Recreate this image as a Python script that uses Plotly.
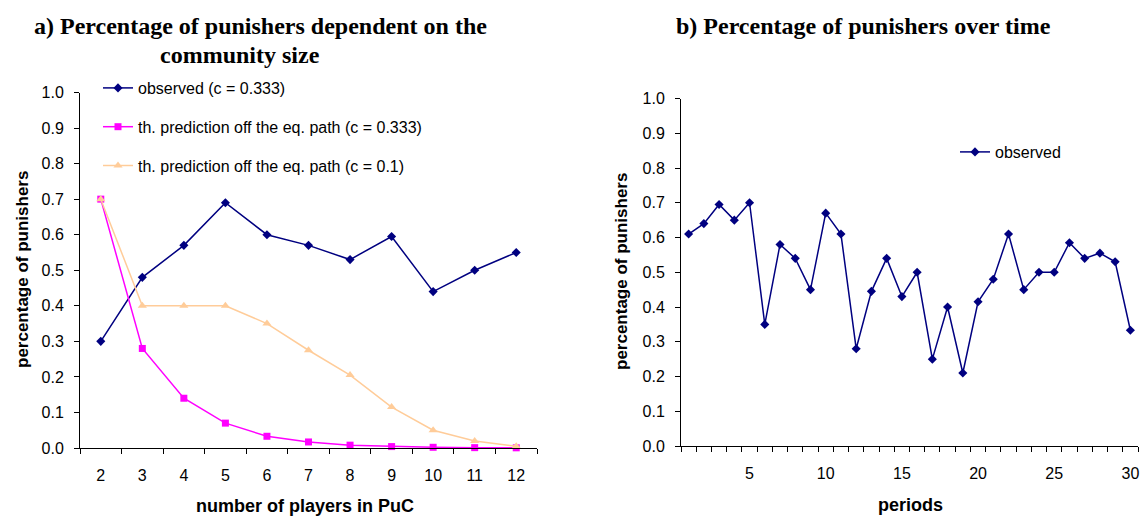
import plotly.graph_objects as go

# ---- data ----
players = [2, 3, 4, 5, 6, 7, 8, 9, 10, 11, 12]
observed_a = [0.30, 0.48, 0.57, 0.69, 0.60, 0.57, 0.53, 0.595, 0.44, 0.50, 0.55]
pred_c333 = [0.70, 0.28, 0.14, 0.07, 0.033, 0.017, 0.008, 0.004, 0.002, 0.001, 0.0005]
pred_c01 = [0.70, 0.40, 0.40, 0.40, 0.35, 0.275, 0.205, 0.115, 0.05, 0.02, 0.005]

periods = list(range(1, 31))
observed_b = [0.61, 0.64, 0.695, 0.65, 0.70, 0.35, 0.58, 0.54, 0.45, 0.67,
              0.61, 0.28, 0.445, 0.54, 0.43, 0.50, 0.25, 0.40, 0.21, 0.415,
              0.48, 0.61, 0.45, 0.50, 0.50, 0.585, 0.54, 0.555, 0.53, 0.333]

y_ticks = [0.0, 0.1, 0.2, 0.3, 0.4, 0.5, 0.6, 0.7, 0.8, 0.9, 1.0]
y_ticklabels = ["0.0", "0.1", "0.2", "0.3", "0.4", "0.5", "0.6", "0.7", "0.8", "0.9", "1.0"]
period_ticks = [5, 10, 15, 20, 25, 30]

NAVY = "#000080"
MAGENTA = "#FF00FF"
PEACH = "#FFCC99"
SANS = "Liberation Sans, Arial, sans-serif"
SERIF = "Liberation Serif, Times New Roman, serif"

fig = go.Figure()

fig.add_trace(go.Scatter(
    x=players, y=observed_a, name="observed (c = 0.333)", mode="lines+markers",
    line=dict(color=NAVY, width=1.5), marker=dict(symbol="diamond", size=7, color=NAVY),
    xaxis="x", yaxis="y", legend="legend", legendgroup="a1", cliponaxis=False))
fig.add_trace(go.Scatter(
    x=players, y=pred_c333, name="th. prediction off the eq. path (c = 0.333)", mode="lines+markers",
    line=dict(color=MAGENTA, width=1.5), marker=dict(symbol="square", size=7, color=MAGENTA),
    xaxis="x", yaxis="y", legend="legend", legendgroup="a2", cliponaxis=False))
fig.add_trace(go.Scatter(
    x=players, y=pred_c01, name="th. prediction off the eq. path (c = 0.1)", mode="lines+markers",
    line=dict(color=PEACH, width=1.5), marker=dict(symbol="triangle-up", size=8, color=PEACH),
    xaxis="x", yaxis="y", legend="legend", legendgroup="a3", cliponaxis=False))
fig.add_trace(go.Scatter(
    x=periods, y=observed_b, name="observed", mode="lines+markers",
    line=dict(color=NAVY, width=1.5), marker=dict(symbol="diamond", size=7, color=NAVY),
    xaxis="x2", yaxis="y2", legend="legend2", cliponaxis=False))

W, H = 1145, 519
def px(v): return v / W
def py(v): return 1 - v / H

common_y = dict(range=[0, 1], tickvals=y_ticks, ticktext=y_ticklabels, ticks="outside",
                ticklen=5, tickcolor="black", showline=True, linecolor="black", linewidth=1,
                showgrid=False, zeroline=False, tickfont=dict(family=SANS, size=16, color="black"),
                ticklabelstandoff=7, automargin=False)
common_x = dict(ticks="", showline=True, linecolor="black", linewidth=1, showgrid=False,
                zeroline=False, tickfont=dict(family=SANS, size=16, color="black"),
                ticklabelstandoff=13, automargin=False)

fig.update_layout(
    width=W, height=H, margin=dict(l=0, r=0, t=0, b=0),
    paper_bgcolor="white", plot_bgcolor="white",
    xaxis=dict(domain=[px(80), px(537)], range=[1.5, 12.5], tickvals=players,
               minor=dict(tickmode="linear", tick0=1.5, dtick=1, ticks="outside", ticklen=5,
                          tickcolor="black"),
               anchor="y", **common_x),
    yaxis=dict(domain=[py(448), py(92.5)], anchor="x", **common_y),
    xaxis2=dict(domain=[px(681), px(1138)], range=[0.5, 30.5], tickvals=period_ticks,
                minor=dict(tickmode="linear", tick0=0.5, dtick=1, ticks="outside", ticklen=5,
                           tickcolor="black"),
                anchor="y2", **common_x),
    yaxis2=dict(domain=[py(446), py(98.5)], anchor="x2", **common_y),
    legend=dict(x=px(98), y=py(71), xanchor="left", yanchor="top", bgcolor="rgba(0,0,0,0)",
                font=dict(family=SANS, size=16, color="black"), traceorder="grouped",
                tracegroupgap=15),
    legend2=dict(x=px(955), y=py(135), xanchor="left", yanchor="top", bgcolor="rgba(0,0,0,0)",
                 font=dict(family=SANS, size=16, color="black")),
    annotations=[
        dict(text="<b>a) Percentage of punishers dependent on the</b>", x=px(260), y=py(26),
             xref="paper", yref="paper", showarrow=False, xanchor="center", yanchor="middle",
             font=dict(family=SERIF, size=24, color="black")),
        dict(text="<b>community size</b>", x=px(240), y=py(55),
             xref="paper", yref="paper", showarrow=False, xanchor="center", yanchor="middle",
             font=dict(family=SERIF, size=24, color="black")),
        dict(text="<b>b) Percentage of punishers over time</b>", x=px(863), y=py(26),
             xref="paper", yref="paper", showarrow=False, xanchor="center", yanchor="middle",
             font=dict(family=SERIF, size=24, color="black")),
        dict(text="<b>number of players in PuC</b>", x=px(305), y=py(506),
             xref="paper", yref="paper", showarrow=False, xanchor="center", yanchor="middle",
             font=dict(family=SANS, size=18, color="black")),
        dict(text="<b>periods</b>", x=px(910), y=py(505),
             xref="paper", yref="paper", showarrow=False, xanchor="center", yanchor="middle",
             font=dict(family=SANS, size=18, color="black")),
        dict(text="<b>percentage of punishers</b>", x=px(22), y=py(270), textangle=-90,
             xref="paper", yref="paper", showarrow=False, xanchor="center", yanchor="middle",
             font=dict(family=SANS, size=17, color="black")),
        dict(text="<b>percentage of punishers</b>", x=px(621), y=py(272), textangle=-90,
             xref="paper", yref="paper", showarrow=False, xanchor="center", yanchor="middle",
             font=dict(family=SANS, size=17, color="black")),
    ],
)

fig.write_html("out.html")
